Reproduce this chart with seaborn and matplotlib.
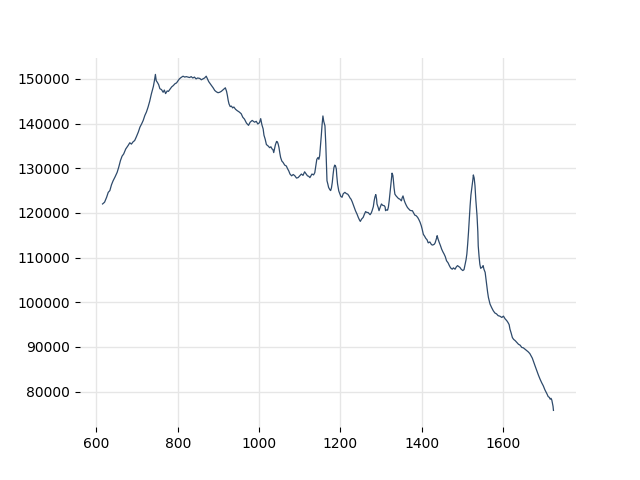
import pandas as pd
import seaborn as sns
import matplotlib
matplotlib.use('Agg')
import matplotlib.pyplot as plt

# Raman shift (cm-1), 10 per row
shift = [615, 620, 625, 629, 633, 637, 641, 646, 651, 655,
         659, 663, 667, 672, 678, 682, 686, 690, 694, 698,
         703, 707, 711, 715, 719, 723, 727, 731, 735, 740,
         743, 745, 747, 750, 753, 756, 760, 764, 767, 770,
         774, 777, 781, 785, 789, 793, 797, 801, 804, 808,
         813, 817, 821, 825, 829, 833, 837, 841, 845, 849,
         854, 858, 862, 866, 870, 873, 876, 879, 883, 887,
         891, 895, 899, 903, 907, 912, 917, 920, 922, 924,
         926, 929, 932, 935, 938, 942, 946, 951, 956, 960,
         964, 969, 974, 978, 983, 986, 989, 993, 997, 1001,
         1004, 1007, 1010, 1012, 1015, 1018, 1022, 1026, 1029, 1032,
         1034, 1036, 1038, 1040, 1043, 1045, 1047, 1049, 1051, 1053,
         1056, 1059, 1063, 1067, 1070, 1073, 1076, 1080, 1084, 1088,
         1092, 1096, 1100, 1104, 1108, 1112, 1116, 1119, 1122, 1125,
         1128, 1130, 1134, 1137, 1140, 1142, 1145, 1147, 1149, 1151,
         1153, 1155, 1157, 1159, 1162, 1164, 1166, 1167, 1169, 1171,
         1174, 1176, 1178, 1180, 1182, 1184, 1186, 1188, 1190, 1191,
         1193, 1196, 1199, 1201, 1204, 1207, 1211, 1215, 1218, 1221,
         1224, 1226, 1229, 1231, 1234, 1237, 1241, 1244, 1247, 1249,
         1252, 1256, 1259, 1262, 1265, 1268, 1271, 1273, 1276, 1278,
         1281, 1283, 1285, 1287, 1289, 1290, 1293, 1295, 1298, 1301,
         1304, 1308, 1310, 1311, 1314, 1316, 1318, 1320, 1322, 1324,
         1326, 1327, 1329, 1330, 1332, 1334, 1337, 1340, 1343, 1346,
         1348, 1350, 1352, 1354, 1357, 1359, 1362, 1365, 1368, 1371,
         1374, 1377, 1380, 1383, 1386, 1390, 1393, 1396, 1399, 1401,
         1404, 1407, 1410, 1413, 1416, 1420, 1424, 1427, 1431, 1433,
         1435, 1437, 1438, 1440, 1443, 1446, 1449, 1452, 1455, 1458,
         1461, 1465, 1468, 1471, 1475, 1478, 1482, 1485, 1488, 1491,
         1494, 1497, 1501, 1504, 1506, 1509, 1511, 1513, 1515, 1517,
         1519, 1521, 1524, 1526, 1527, 1529, 1531, 1533, 1536, 1538,
         1539, 1541, 1543, 1545, 1548, 1550, 1551, 1553, 1556, 1558,
         1560, 1562, 1564, 1568, 1572, 1576, 1580, 1584, 1588, 1592,
         1597, 1601, 1605, 1609, 1612, 1615, 1617, 1620, 1623, 1626,
         1630, 1634, 1638, 1642, 1646, 1650, 1654, 1658, 1662, 1666,
         1669, 1672, 1675, 1679, 1683, 1687, 1691, 1695, 1699, 1703,
         1708, 1711, 1714, 1716, 1718, 1720, 1721, 1723, 1724]

# Intensity at each shift, same row layout
intensity = [122000, 122400, 123500, 124600, 125000, 126300, 127200, 128100, 129100, 130300,
             131700, 132700, 133200, 134300, 135100, 135700, 135400, 135900, 136200, 137000,
             138100, 139200, 139900, 140700, 141800, 142600, 143700, 145000, 146600, 148300,
             149800, 151000, 149600, 149200, 148700, 147800, 147600, 147000, 147500, 146700,
             147300, 147200, 147700, 148200, 148500, 148900, 149100, 149600, 150000, 150300,
             150600, 150400, 150500, 150400, 150300, 150500, 150200, 150400, 150000, 150200,
             150100, 149800, 150000, 150200, 150600, 150000, 149400, 149000, 148500, 148000,
             147400, 147100, 146900, 147000, 147200, 147600, 148000, 147200, 146300, 145200,
             144400, 143800, 143900, 143500, 143700, 143200, 142900, 142600, 142200, 141400,
             141000, 140100, 139600, 140300, 140700, 140500, 140300, 140500, 139900, 140200,
             141100, 139700, 138800, 137400, 136500, 135300, 135000, 134600, 134800, 134300,
             134200, 133500, 134400, 135200, 136000, 135900, 135400, 134600, 133400, 132400,
             131600, 131300, 130700, 130500, 129900, 129400, 128700, 128300, 128600, 128300,
             127800, 127900, 128300, 128700, 128400, 129200, 128700, 128300, 128200, 127900,
             128400, 128700, 128500, 129000, 130800, 132000, 132400, 132000, 132800, 135000,
             137300, 139800, 141700, 140500, 139500, 135500, 130000, 127200, 126500, 125700,
             125200, 125000, 125600, 126800, 128600, 130100, 130700, 130500, 129800, 128400,
             126500, 124900, 124200, 123700, 123500, 124300, 124600, 124300, 124200, 123800,
             123300, 123100, 122500, 122000, 121300, 120500, 119700, 119000, 118400, 118100,
             118600, 119000, 119700, 120300, 120100, 120100, 119800, 119600, 120000, 120500,
             121400, 122700, 123600, 124100, 123100, 122000, 121200, 120500, 121300, 122000,
             121700, 121600, 121300, 120500, 120700, 120600, 121300, 122700, 124500, 126500,
             128200, 128900, 128400, 127600, 125600, 124200, 123800, 123500, 123200, 123100,
             122900, 122700, 123400, 123800, 122800, 122300, 121700, 121200, 120900, 120600,
             120500, 120500, 120000, 119500, 119400, 119000, 118500, 117900, 117100, 116400,
             115200, 114800, 114300, 114000, 113300, 113500, 112900, 112800, 113000, 113300,
             113900, 114500, 114900, 114200, 113400, 112700, 111900, 111300, 110800, 110200,
             109300, 108800, 108200, 107700, 107400, 107700, 107400, 107900, 108200, 108000,
             107800, 107400, 107100, 107300, 108200, 109500, 110800, 113000, 115600, 118700,
             121600, 124000, 126100, 127600, 128500, 127800, 126100, 123000, 119400, 115800,
             112600, 110300, 108500, 107600, 107800, 108000, 108200, 107400, 106700, 105200,
             103700, 102300, 101100, 99600, 98800, 98100, 97600, 97400, 97000, 96900,
             96600, 96900, 96300, 95900, 95500, 95000, 94000, 93100, 92100, 91700,
             91400, 91000, 90600, 90400, 89900, 89800, 89500, 89200, 88900, 88500,
             88000, 87500, 86700, 85700, 84700, 83700, 82800, 82000, 81300, 80400,
             79500, 78900, 78700, 78300, 78500, 78100, 77600, 76700, 75800]

df = pd.DataFrame({'shift': shift, 'intensity': intensity})

fig, ax = plt.subplots(figsize=(6.4, 4.8), dpi=100)
sns.lineplot(data=df, x='shift', y='intensity', color='#2e4a6b', linewidth=0.9, ax=ax)

ax.grid(True, color='#e6e6e6', linewidth=1)
ax.set_axisbelow(True)
for spine in ax.spines.values():
    spine.set_visible(False)
ax.set_xlabel('')
ax.set_ylabel('')

plt.savefig('out.png', dpi=100)
